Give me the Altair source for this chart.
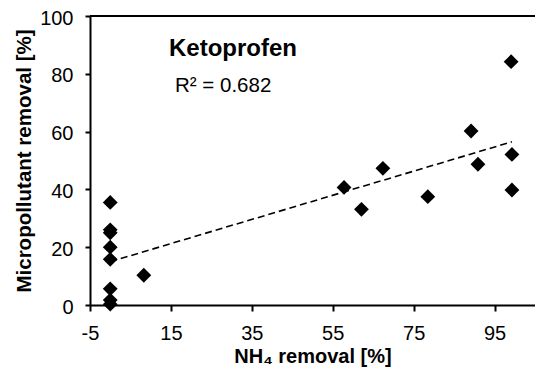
import altair as alt
import pandas as pd

# NH4 removal [%] (x) and micropollutant removal [%] (y)
nh4 = [0, 0, 0, 0, 0, 0, 0, 0, 8.3, 57.8, 62.1, 67.4, 78.5, 89.2, 90.9, 99.3, 99.3, 99.1]
micro = [35.5, 26.0, 25.0, 20.0, 15.8, 5.6, 1.7, 0.3, 10.3, 40.7, 33.1, 47.3, 37.5, 60.2, 48.7, 52.1, 39.8, 84.2]
x_ticks = [-5, 15, 35, 55, 75, 95]
y_ticks = [0, 20, 40, 60, 80, 100]
title_text = ["Ketoprofen"]
r2_text = ["R\u00b2 = 0.682"]

FONT = "Liberation Sans"
W, H = 445, 289

df = pd.DataFrame({"nh4": nh4, "micro": micro})

xscale = alt.Scale(domain=[-5, 105], nice=False, zero=False)
yscale = alt.Scale(domain=[0, 100], nice=False)

xaxis = alt.Axis(values=x_ticks, title="NH\u2084 removal [%]", grid=False,
                 labelExpr="'' + datum.value",
                 domainColor="black", domainWidth=2, tickColor="black", tickWidth=2,
                 tickSize=6, labelFont=FONT, labelFontSize=20, labelColor="black",
                 labelPadding=12, titleFont=FONT, titleFontSize=20, titleFontWeight="bold",
                 titleColor="black", titlePadding=3, labelFlush=False, labelOverlap=False)
yaxis = alt.Axis(values=y_ticks, title="Micropollutant removal [%]", grid=False,
                 domainColor="black", domainWidth=2, tickColor="black", tickWidth=2,
                 tickSize=5, labelFont=FONT, labelFontSize=20, labelColor="black",
                 labelPadding=12, labelOffset=2, titleFont=FONT, titleFontSize=20.5,
                 titleFontWeight="bold", titleColor="black", titlePadding=5,
                 labelFlush=False, labelOverlap=False)

base = alt.Chart(df)

points = base.mark_point(shape="diamond", filled=True, color="black", size=220, opacity=1).encode(
    x=alt.X("nh4:Q", scale=xscale, axis=xaxis),
    y=alt.Y("micro:Q", scale=yscale, axis=yaxis),
)

trend = base.transform_regression("nh4", "micro").mark_line(
    color="black", strokeWidth=1.6, strokeDash=[7, 4]
).encode(
    x=alt.X("nh4:Q", scale=xscale),
    y=alt.Y("micro:Q", scale=yscale),
)

top_border = alt.Chart(pd.DataFrame({"a": [0]})).mark_rule(color="black", strokeWidth=2).encode(
    x=alt.value(0), x2=alt.value(W), y=alt.value(0)
)

label1 = alt.Chart(pd.DataFrame({"t": title_text})).mark_text(
    font=FONT, fontSize=24, fontWeight="bold", color="black", align="left", baseline="middle"
).encode(text="t:N", x=alt.value(79), y=alt.value(33))

label2 = alt.Chart(pd.DataFrame({"t": r2_text})).mark_text(
    font=FONT, fontSize=20.5, color="black", align="left", baseline="middle"
).encode(text="t:N", x=alt.value(85), y=alt.value(70))

chart = alt.layer(trend, points, top_border, label1, label2).properties(
    width=W, height=H,
    autosize=alt.AutoSizeParams(type="none"),
    padding={"left": 90, "top": 16, "right": 0, "bottom": 75},
).configure_view(stroke=None).configure(background="white")

chart.save("out.html", embed_options={"renderer": "svg", "actions": False})
